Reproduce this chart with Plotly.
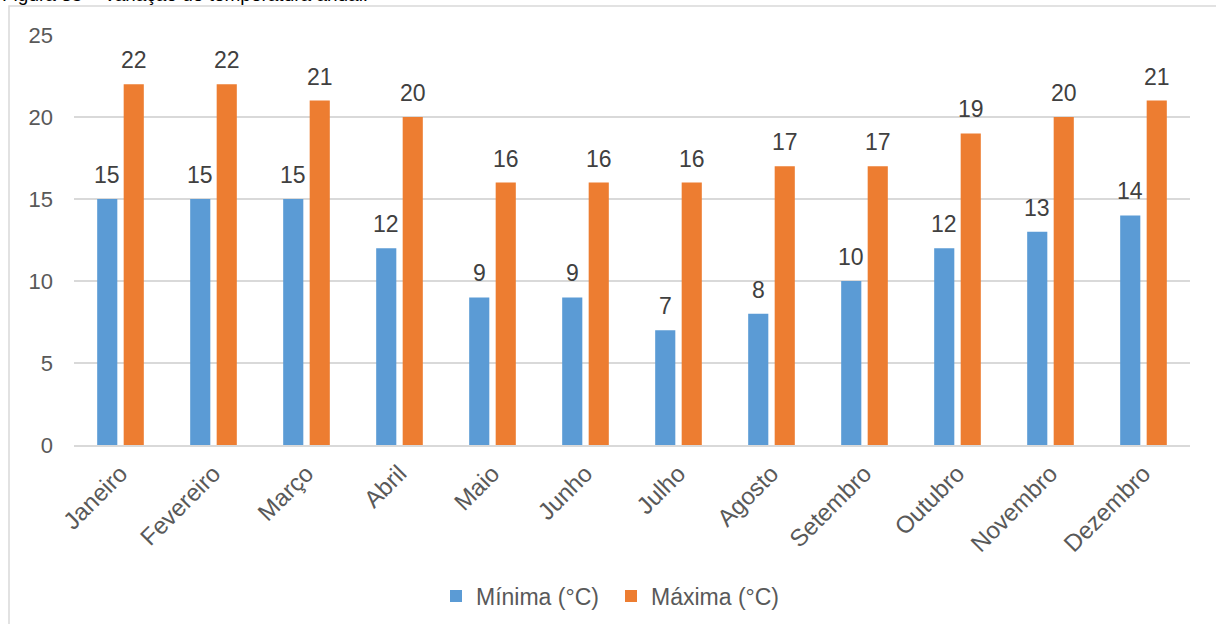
import plotly.graph_objects as go

# Monthly temperature data (°C)
meses = ["Janeiro", "Fevereiro", "Março", "Abril", "Maio", "Junho",
         "Julho", "Agosto", "Setembro", "Outubro", "Novembro", "Dezembro"]
minima = [15, 15, 15, 12, 9, 9, 7, 8, 10, 12, 13, 14]
maxima = [22, 22, 21, 20, 16, 16, 16, 17, 17, 19, 20, 21]

FONT = "Liberation Sans, Arial, sans-serif"
AZUL = "#5B9BD5"
LARANJA = "#ED7D31"
GRADE = "#D9D9D9"

W, H = 1216, 624
ML, MR, MT, MB = 74, 26, 35, 179
PW = W - ML - MR
PH = H - MT - MB

fig = go.Figure()
fig.add_trace(go.Bar(x=meses, y=minima, name="Mínima (°C)",
                     marker=dict(color=AZUL, line=dict(width=0))))
fig.add_trace(go.Bar(x=meses, y=maxima, name="Máxima (°C)",
                     marker=dict(color=LARANJA, line=dict(width=0))))

# value labels above each bar
anns = []
for serie, shift in ((minima, -13.2), (maxima, 13.2)):
    for m, v in zip(meses, serie):
        anns.append(dict(x=m, y=v, xref="x", yref="y", text=str(v),
                         showarrow=False, xshift=shift, yshift=9,
                         yanchor="bottom", xanchor="center",
                         font=dict(family=FONT, size=23, color="#404040")))

# figure caption sitting at the very top edge
anns.append(dict(x=(0 - ML) / PW, y=1, xref="paper", yref="paper",
                 text="Figura 35 – Variação de temperatura anual.",
                 showarrow=False, xanchor="left", yanchor="bottom", yshift=28,
                 font=dict(family=FONT, size=19, color="#000000")))

fig.update_layout(
    width=W, height=H,
    margin=dict(l=ML, r=MR, t=MT, b=MB, autoexpand=False),
    paper_bgcolor="white", plot_bgcolor="white",
    barmode="group", bargap=0.43, bargroupgap=0.24,
    font=dict(family=FONT, size=23, color="#595959"),
    annotations=anns,
    showlegend=True,
    legend=dict(orientation="h", x=(436 - ML) / PW, xanchor="left",
                y=(H - MB - 596) / PH, yanchor="middle",
                entrywidth=130, entrywidthmode="pixels",
                font=dict(family=FONT, size=23, color="#595959"),
                traceorder="normal"),
    shapes=[dict(type="rect", xref="paper", yref="paper",
                 x0=(9 - ML) / PW, x1=(1240 - ML) / PW,
                 y0=(H - MB - 640) / PH, y1=1 + (MT - 6) / PH,
                 line=dict(color=GRADE, width=1.5), fillcolor="rgba(0,0,0,0)",
                 layer="below")],
)
fig.update_xaxes(tickangle=-45, tickfont=dict(family=FONT, size=24, color="#595959"),
                 showline=True, linecolor=GRADE, linewidth=2, ticklabelstandoff=3,
                 showgrid=False, ticks="", automargin=False)
fig.update_yaxes(range=[0, 25], dtick=5, tick0=0,
                 tickfont=dict(family=FONT, size=22, color="#595959"),
                 showgrid=True, gridcolor=GRADE, gridwidth=1.5, automargin=False,
                 zeroline=False, showline=False, ticks="", ticklabelstandoff=20)

fig.write_html("out.html")
